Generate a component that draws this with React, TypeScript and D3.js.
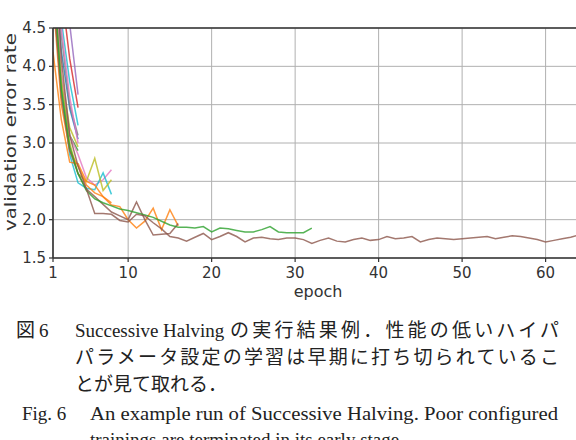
import * as d3 from "d3";

// epochs are 1-based; each config stops where successive halving cut it
const seriesNames = [
  "purple", "red", "cyanA", "blue", "gray", "oliveA", "pinkA", "greenA",
  "pinkB", "cyanB", "oliveB", "orangeB", "orange", "brownB", "green", "brownA",
];
const seriesColors = [
  "#9467bd", "#d62728", "#17becf", "#1f77b4", "#7f7f7f", "#bcbd22", "#e377c2", "#2ca02c",
  "#e377c2", "#17becf", "#bcbd22", "#ff7f0e", "#ff7f0e", "#8c564b", "#2ca02c", "#8c564b",
];

const purple = [7.2, 5.6, 4.55, 3.63];
const red = [6.8, 5.0, 4.1, 3.46];
const cyanA = [6.2, 4.6, 3.8, 3.23];
const blue = [5.6, 4.2, 3.45, 3.05];
const gray = [5.9, 4.4, 3.5, 3.1];
const oliveA = [5.3, 3.9, 3.2, 2.95];
const pinkA = [6.0, 4.5, 3.6, 3.0];
const greenA = [5.2, 3.8, 3.1, 2.9];
const pinkB = [5.4, 3.9, 3.1, 2.85, 2.55, 2.45, 2.52, 2.65];
const cyanB = [5.0, 3.7, 2.85, 2.48, 2.41, 2.39, 2.61, 2.33];
const oliveB = [5.1, 3.8, 3.0, 2.6, 2.5, 2.8, 2.38, 2.52];
const orangeB = [4.9, 3.5, 2.9, 2.7, 2.45, 2.35, 2.3, 2.22];
const orange = [4.19, 3.3, 2.75, 2.73, 2.5, 2.45, 2.3, 2.19, 2.17, 2.0, 1.89, 1.98, 2.15, 1.87, 2.13, 1.92];
const brownB = [5.0, 3.6, 2.9, 2.6, 2.4, 2.3, 2.2, 2.1, 2.05, 2.0, 2.23, 2.0, 1.8, 1.81, 1.82, 1.95];
const green = [
  5.3, 3.7, 2.95, 2.6, 2.38, 2.27, 2.22, 2.18, 2.14, 2.12, 2.09, 2.06, 2.03, 1.98, 1.93, 1.9,
  1.9, 1.89, 1.91, 1.84, 1.89, 1.88, 1.86, 1.84, 1.84, 1.87, 1.91, 1.84, 1.83, 1.83, 1.83, 1.89,
];
const brownA = [
  5.8, 4.1, 3.1, 2.7, 2.4, 2.08, 2.08, 2.07, 1.99, 1.97, 2.07, 2.05, 1.96, 1.88, 1.78, 1.76,
  1.72, 1.77, 1.82, 1.74, 1.78, 1.83, 1.78, 1.71, 1.76, 1.77, 1.75, 1.74, 1.76, 1.76, 1.74, 1.69,
  1.73, 1.76, 1.72, 1.71, 1.74, 1.76, 1.73, 1.74, 1.78, 1.75, 1.76, 1.78, 1.71, 1.74, 1.76, 1.75,
  1.74, 1.75, 1.76, 1.77, 1.78, 1.75, 1.77, 1.79, 1.78, 1.76, 1.74, 1.71, 1.73, 1.75, 1.77, 1.8,
];
const seriesValues = [
  purple, red, cyanA, blue, gray, oliveA, pinkA, greenA,
  pinkB, cyanB, oliveB, orangeB, orange, brownB, green, brownA,
];

const xTicks = [1, 10, 20, 30, 40, 50, 60];
const yTicks = [1.5, 2.0, 2.5, 3.0, 3.5, 4.0, 4.5];

const W = 576;
const H = 440;
const left = 53;
const top = 28;
const bottom = 258;
const right = 579;

const tickFont = "DejaVu Sans, sans-serif";
const latinFont = "Liberation Serif, serif";
const jpFont = "'Noto Sans CJK JP', sans-serif";

export default function App() {
  const x = d3.scaleLinear().domain([1, 64]).range([left, right]);
  const y = d3.scaleLinear().domain([1.5, 4.5]).range([bottom, top]);
  const line = d3
    .line<number>()
    .x((_, i) => x(i + 1))
    .y((d) => y(d));

  return (
    <svg
      width={W}
      height={H}
      style={{ position: "absolute", left: 0, top: 0, background: "#fff" }}
    >
      <defs>
        <clipPath id="plot">
          <rect x={left} y={top} width={right - left} height={bottom - top} />
        </clipPath>
      </defs>

      {/* grid */}
      <g stroke="#b0b0b0" strokeWidth={1}>
        {xTicks.map((t) => (
          <line key={"gx" + t} x1={x(t)} x2={x(t)} y1={top} y2={bottom} />
        ))}
        {yTicks.map((t) => (
          <line key={"gy" + t} x1={left} x2={right} y1={y(t)} y2={y(t)} />
        ))}
      </g>

      {/* runs */}
      <g clipPath="url(#plot)" fill="none" strokeWidth={1.5} strokeOpacity={0.8}>
        {seriesValues.map((vals, i) => (
          <path key={seriesNames[i]} d={line(vals) || ""} stroke={seriesColors[i]} />
        ))}
      </g>

      {/* spines */}
      <g stroke="#333" strokeWidth={1.6} fill="none">
        <line x1={left} x2={left} y1={top} y2={bottom} />
        <line x1={left} x2={right} y1={top} y2={top} />
        <line x1={left} x2={right} y1={bottom} y2={bottom} />
      </g>

      {/* ticks */}
      <g stroke="#333" strokeWidth={1.2}>
        {xTicks.map((t) => (
          <line key={"tx" + t} x1={x(t)} x2={x(t)} y1={bottom} y2={bottom + 4} />
        ))}
        {yTicks.map((t) => (
          <line key={"ty" + t} x1={left - 4} x2={left} y1={y(t)} y2={y(t)} />
        ))}
      </g>
      <g fontFamily={tickFont} fontSize={15} fill="#333">
        {xTicks.map((t) => (
          <text key={"lx" + t} x={x(t)} y={bottom + 20} textAnchor="middle">
            {t}
          </text>
        ))}
        {yTicks.map((t) => (
          <text key={"ly" + t} x={left - 7} y={y(t) + 5} textAnchor="end">
            {d3.format(".1f")(t)}
          </text>
        ))}
        <text x={318} y={297} fontSize={16} textAnchor="middle">
          epoch
        </text>
        <text
          transform={`translate(16,132) rotate(-90)`}
          fontSize={16}
          textAnchor="middle"
          textLength={198}
          lengthAdjust="spacingAndGlyphs"
        >
          validation error rate
        </text>
      </g>

      {/* caption */}
      <g fontSize={19} fill="#222">
        <text x={16} y={337} fontFamily={jpFont}>図</text>
        <text x={39} y={337} fontFamily={latinFont}>6</text>
        <text x={75} y={337} fontFamily={latinFont}>
          Successive Halving
        </text>
        <text x={230} y={337} fontFamily={jpFont} textLength={329} lengthAdjust="spacing">
          の実行結果例．性能の低いハイパ
        </text>
        <text x={75} y={364} fontFamily={jpFont} textLength={484} lengthAdjust="spacing">
          パラメータ設定の学習は早期に打ち切られているこ
        </text>
        <text x={75} y={391} fontFamily={jpFont}>
          とが見て取れる．
        </text>
        <text x={22} y={420} fontFamily={latinFont}>Fig. 6</text>
        <text
          x={90}
          y={420}
          fontFamily={latinFont}
          textLength={468}
          lengthAdjust="spacingAndGlyphs"
        >
          An example run of Successive Halving. Poor configured
        </text>
        <text x={90} y={446} fontFamily={latinFont}>
          trainings are terminated in its early stage.
        </text>
      </g>
    </svg>
  );
}
